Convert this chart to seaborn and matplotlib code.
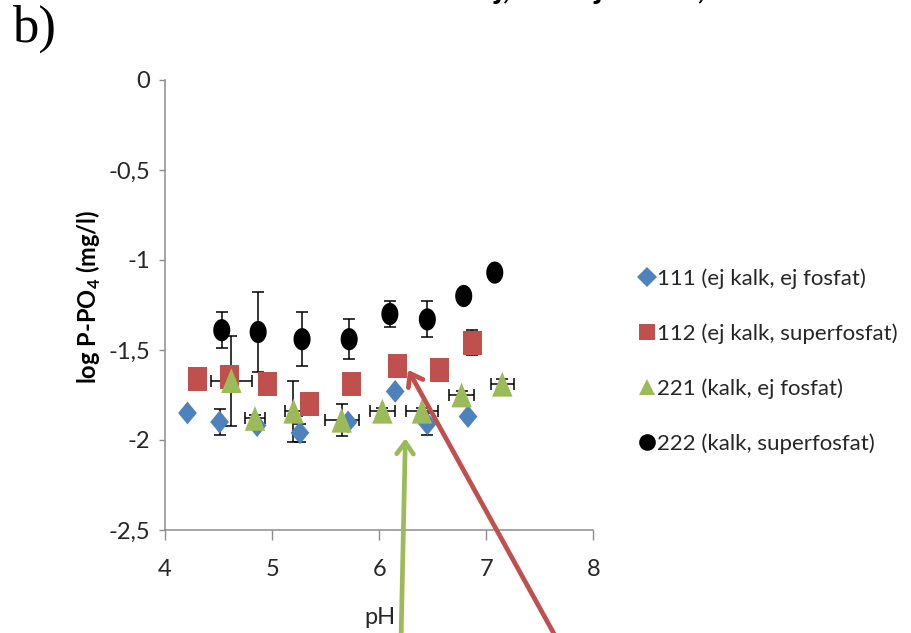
import numpy as np
import pandas as pd
import matplotlib
matplotlib.use("Agg")
import matplotlib.pyplot as plt
from matplotlib.path import Path
from matplotlib.lines import Line2D
from matplotlib.ticker import FixedLocator, FixedFormatter
import seaborn as sns

# pH and log P-PO4 (mg/l) per treatment, with standard errors
ph_111 = [4.21, 4.51, 4.86, 5.26, 5.71, 6.15, 6.45, 6.83]
logp_111 = [-1.85, -1.90, -1.92, -1.96, -1.90, -1.73, -1.91, -1.87]
err_111 = [0.0, 0.07, 0.0, 0.05, 0.0, 0.0, 0.06, 0.0]

ph_112 = [4.30, 4.60, 4.96, 5.35, 5.74, 6.17, 6.56, 6.87]
logp_112 = [-1.66, -1.65, -1.69, -1.80, -1.69, -1.59, -1.61, -1.46]
err_112 = [0.0, 0.0, 0.0, 0.0, 0.0, 0.0, 0.0, 0.07]

ph_221 = [4.62, 4.84, 5.20, 5.65, 6.03, 6.40, 6.77, 7.15]
logp_221 = [-1.67, -1.88, -1.84, -1.89, -1.84, -1.84, -1.75, -1.69]
err_221 = [0.25, 0.02, 0.17, 0.09, 0.02, 0.02, 0.02, 0.03]
pherr_221 = [0.19, 0.09, 0.08, 0.16, 0.12, 0.15, 0.12, 0.11]

ph_222 = [4.53, 4.87, 5.28, 5.72, 6.10, 6.45, 6.79, 7.08]
logp_222 = [-1.39, -1.40, -1.44, -1.44, -1.30, -1.33, -1.20, -1.07]
err_222 = [0.10, 0.22, 0.15, 0.11, 0.07, 0.10, 0.0, 0.0]

series_labels = ["111 (ej kalk, ej fosfat)", "112 (ej kalk, superfosfat)",
                 "221 (kalk, ej fosfat)", "222 (kalk, superfosfat)"]
series_colors = ["#4F81BD", "#C0504D", "#9BBB59", "#000000"]

x_ticks = [4, 5, 6, 7, 8]
x_tick_labels = ["4", "5", "6", "7", "8"]
y_ticks = [0, -0.5, -1, -1.5, -2, -2.5]
y_tick_labels = ["0", "-0,5", "-1", "-1,5", "-2", "-2,5"]

x_label = "pH"
y_label = "log P-PO$_\\mathregular{4}$ (mg/l)"
panel_label = "b)"
heading = "Lakvatten i maj, och ej kalkat,"

sns.set_theme(style="white")
plt.rcParams["font.family"] = ["Lato", "DejaVu Sans"]

GREEN = series_colors[2]
RED = series_colors[1]
TXT = "#262626"
AXC = "#8C8C8C"


def shape(verts):
    codes = [Path.MOVETO] + [Path.LINETO] * (len(verts) - 2) + [Path.CLOSEPOLY]
    return Path(verts, codes)


# slightly tall markers
diamond = shape([(0, 1), (0.82, 0), (0, -1), (-0.82, 0), (0, 1)])
square = shape([(-0.78, -1), (0.78, -1), (0.78, 1), (-0.78, 1), (-0.78, -1)])
triangle = shape([(-0.82, -1), (0.82, -1), (0, 1), (-0.82, -1)])
t = np.linspace(0, 2 * np.pi, 60)
ellipse = shape(list(zip(0.77 * np.cos(t), np.sin(t))))

marker_map = dict(zip(series_labels, [diamond, square, triangle, ellipse]))
size_map = dict(zip(series_labels, [270, 310, 320, 255]))
palette = dict(zip(series_labels, series_colors))

frames = []
for lab, xs, ys in zip(series_labels, [ph_111, ph_112, ph_221, ph_222],
                       [logp_111, logp_112, logp_221, logp_222]):
    frames.append(pd.DataFrame({"pH": xs, "logP": ys, "serie": lab}))
df = pd.concat(frames, ignore_index=True)

W, H = 912, 633
fig = plt.figure(figsize=(W / 100, H / 100), dpi=100)
ax = fig.add_axes([165 / W, 1 - 530 / H, (593.3 - 165) / W, (530 - 80) / H])

# error bars first, markers on top
err_sets = [(ph_111, logp_111, err_111, None), (ph_112, logp_112, err_112, None),
            (ph_221, logp_221, err_221, pherr_221), (ph_222, logp_222, err_222, None)]
for xs, ys, ye, xe in err_sets:
    xs, ys, ye = np.array(xs), np.array(ys), np.array(ye)
    keep = ye > 0
    ax.errorbar(xs[keep], ys[keep], yerr=ye[keep], fmt="none", ecolor="black",
                elinewidth=1.1, capsize=4.6, capthick=1.1, zorder=2)
    if xe is not None:
        ax.errorbar(xs, ys, xerr=np.array(xe), fmt="none", ecolor="black",
                    elinewidth=1.1, capsize=4.6, capthick=1.1, zorder=2)

sns.scatterplot(data=df, x="pH", y="logP", hue="serie", style="serie",
                size="serie", palette=palette, markers=marker_map, sizes=size_map,
                linewidth=0, legend=False, ax=ax, zorder=3)

ax.set_xlim(4, 8)
ax.set_ylim(-2.5, 0)
ax.xaxis.set_major_locator(FixedLocator(x_ticks))
ax.xaxis.set_major_formatter(FixedFormatter(x_tick_labels))
ax.yaxis.set_major_locator(FixedLocator(y_ticks))
ax.yaxis.set_major_formatter(FixedFormatter(y_tick_labels))
ax.tick_params(axis="x", which="major", direction="out", length=7, width=1,
               color=AXC, labelsize=17, labelcolor=TXT, pad=14, bottom=True)
ax.tick_params(axis="y", which="major", direction="out", length=4.5, width=1,
               color=AXC, labelsize=17, labelcolor=TXT, pad=6, left=True)
for side in ["top", "right"]:
    ax.spines[side].set_visible(False)
for side in ["left", "bottom"]:
    ax.spines[side].set_color(AXC)
    ax.spines[side].set_linewidth(1.1)
ax.set_xlabel("")
ax.set_ylabel("")
ax.grid(False)

fig.text(380 / W, 1 - 618 / H, x_label, ha="center", va="center",
         fontsize=17, color=TXT)
fig.text(89 / W, 1 - 297 / H, y_label, ha="center", va="center", rotation=90,
         fontsize=17, fontweight="bold", color="black")
fig.text(12 / W, 1 - 42 / H, panel_label, ha="left", va="baseline",
         fontsize=38, family="Liberation Serif", color="black")
fig.text(705 / W, 1 + 1 / H, heading, ha="right", va="baseline",
         fontsize=23, fontweight="bold", color="black")

# legend
leg_markers = ["D", "s", "^", "o"]
leg_sizes = [10, 11.5, 12, 12]
handles = [Line2D([], [], linestyle="none", marker=m, markersize=s, color=c,
                  markeredgewidth=0)
           for m, s, c in zip(leg_markers, leg_sizes, series_colors)]
fig.legend(handles, series_labels, loc="center left",
           bbox_to_anchor=(638 / W, 1 - 361 / H), frameon=False,
           fontsize=16, labelspacing=1.55, handlelength=0.8, handletextpad=0.05,
           borderpad=0, borderaxespad=0, labelcolor=TXT)

# arrows pointing at points of interest
ax.annotate("", xy=(6.245, -1.99), xycoords="data", xytext=(401, -8),
            textcoords="figure pixels", annotation_clip=False,
            arrowprops=dict(arrowstyle="->,head_length=0.7,head_width=0.5",
                            color=GREEN, lw=3.4, shrinkA=0, shrinkB=0),
            zorder=6)
ax.annotate("", xy=(6.27, -1.61), xycoords="data", xytext=(558, -8),
            textcoords="figure pixels", annotation_clip=False,
            arrowprops=dict(arrowstyle="->,head_length=0.7,head_width=0.5",
                            color=RED, lw=3.4, shrinkA=0, shrinkB=0),
            zorder=6)

fig.savefig("out.png", dpi=100)
